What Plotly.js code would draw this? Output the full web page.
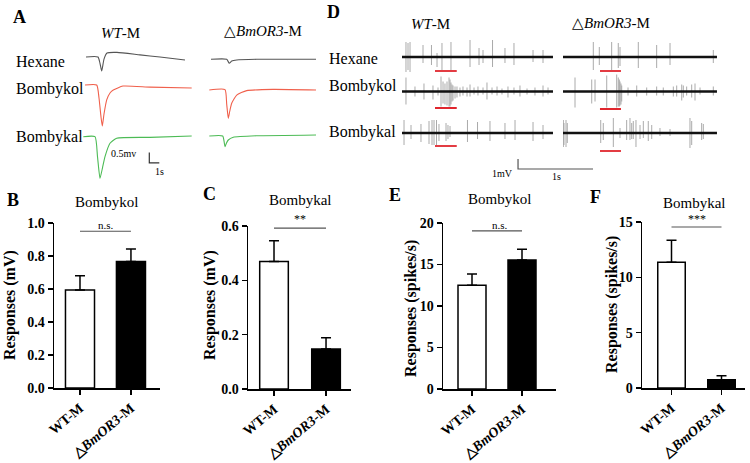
<!DOCTYPE html>
<html><head><meta charset="utf-8">
<script src="https://cdn.plot.ly/plotly-3.0.1.min.js"></script>
<style>html,body{margin:0;padding:0;background:#fff;}#chart{width:750px;height:463px;}</style>
</head><body><div id="chart"></div>
<script>
// ================= DATA =================
// Panel A: EAG traces, time (s) and response (mV, relative to baseline)
const eagWtHexaneT   = [0.4, 1.6, 1.8, 1.97, 2.2, 2.5, 3.5, 5.8, 7.8, 10.3];
const eagWtHexaneV   = [0, 0, -0.3, -0.67, -0.1, 0.19, 0.22, 0.1, 0, -0.14];
const eagWtBombykolT = [0.3, 1.47, 1.7, 1.9, 2.03, 2.2, 2.47, 2.8, 3.13, 4.1, 6.8, 10.97];
const eagWtBombykolV = [0, 0, -0.62, -1.52, -1.95, -1.38, -0.71, -0.38, -0.24, -0.05, -0.1, -0.14];
const eagWtBombykalT = [0.13, 1.3, 1.55, 1.8, 2.05, 2.3, 2.8, 3.47, 6.8, 10.97];
const eagWtBombykalV = [0, 0, -0.95, -1.98, -1.48, -0.95, -0.31, -0.07, -0.03, 0.03];
const eagKoHexaneT   = [0.2, 1.77, 2.03, 2.27, 2.77, 4.77, 10.7];
const eagKoHexaneV   = [0, 0, -0.19, -0.08, -0.03, 0, 0];
const eagKoBombykolT = [0.03, 1.6, 1.77, 1.93, 2.08, 2.27, 2.77, 3.77, 6.4, 10.7];
const eagKoBombykolV = [0, 0.02, -0.67, -1.35, -1.0, -0.63, -0.24, -0.03, 0.03, 0];
const eagKoBombykalT = [0.03, 1.37, 1.6, 1.75, 1.93, 2.43, 4.77, 10.7];
const eagKoBombykalV = [0, 0, -0.51, -0.33, -0.19, -0.06, 0.01, 0.05];

// Panel D: single-sensillum recordings, spike time (s), upward and downward peak (mV)
const ssrWtDuration = 2.013, ssrKoDuration = 2.053;
const ssrWtHexaneT = [0.053,0.080,0.107,0.280,0.393,0.467,0.533,0.653,0.907,1.027,1.080,1.207,1.373,1.493,1.747,1.880];
const ssrWtHexaneUp = [1.5,1.4,1.5,1.2,1.2,0.4,1.4,1.5,1.7,0.9,0.7,1.7,0.9,1.4,0.7,0.7];
const ssrWtHexaneDn = [1.5,1.3,1.5,0.6,0.8,1.0,1.3,1.3,1.0,0.8,0.6,1.0,0.6,0.8,0.5,0.6];
const ssrWtBombykolT = [0.053,0.173,0.293,0.413,0.480,0.520,0.547,0.573,0.600,0.627,0.640,0.653,0.667,0.680,0.707,0.733,0.773,0.813,0.867,0.907,0.960,1.013,1.080,1.133,1.200,1.267,1.333,1.413,1.493,1.573,1.667,1.773,1.880,1.947];
const ssrWtBombykolUp = [1.4,0.5,0.8,0.6,0.4,1.5,1.0,0.8,1.0,1.4,1.2,0.9,0.7,0.6,0.5,0.5,0.4,0.5,0.4,0.7,0.4,0.5,0.4,0.9,0.4,0.5,0.3,0.5,0.4,0.6,0.3,0.4,0.6,0.4];
const ssrWtBombykolDn = [1.3,0.5,0.8,0.8,0.4,1.5,1.2,1.3,1.4,1.5,1.5,1.3,1.0,0.9,0.7,0.6,0.5,0.4,0.5,0.5,0.3,0.4,0.3,0.8,0.3,0.4,0.3,0.6,0.3,0.5,0.3,0.4,0.5,0.3];
const ssrWtBombykalT = [0.027,0.120,0.253,0.360,0.400,0.427,0.460,0.493,0.587,0.613,0.640,0.873,1.007,1.173,1.373,1.507,1.747,1.880];
const ssrWtBombykalUp = [1.3,0.8,0.9,1.2,1.3,1.3,1.3,0.9,1.0,0.8,0.7,1.3,1.1,1.2,1.0,1.3,1.1,0.8];
const ssrWtBombykalDn = [1.2,0.6,0.9,1.1,1.2,1.2,1.2,0.8,0.8,0.6,0.4,0.9,0.6,0.8,0.6,0.7,0.8,0.6];
const ssrKoHexaneT = [0.404,0.484,0.649,0.737,0.760,1.004,1.249,1.427,2.004];
const ssrKoHexaneUp = [1.5,1.0,1.5,1.4,1.0,1.5,1.2,1.4,0.7];
const ssrKoHexaneDn = [1.3,0.8,1.3,1.1,0.9,1.1,1.1,0.8,0.6];
const ssrKoBombykolT = [0.160,0.383,0.427,0.583,0.716,0.737,0.751,0.760,0.773,0.783,0.867,0.983,1.116,1.249,1.337,1.471,1.516,1.583,1.604,1.649,1.716,1.760,1.827,2.004];
const ssrKoBombykolUp = [1.4,1.2,1.2,1.6,1.7,1.4,1.2,1.0,0.8,0.6,0.4,0.6,0.4,0.5,0.4,0.5,0.6,0.7,0.6,0.5,0.7,0.8,0.4,0.5];
const ssrKoBombykolDn = [1.6,1.2,1.0,1.6,1.6,1.5,1.5,1.4,1.3,1.0,0.4,0.5,0.4,0.4,0.4,0.5,0.5,0.9,0.6,0.4,0.6,0.9,0.3,0.4];
const ssrKoBombykalT = [0.005,0.013,0.040,0.057,0.503,0.537,0.671,0.760,0.849,0.893,0.916,0.937,0.973,1.027,1.071,1.137,1.183,1.293,1.427,1.693,1.716,1.849,1.871];
const ssrKoBombykalUp = [1.3,1.0,1.3,1.0,1.3,1.0,1.5,0.5,1.3,1.5,1.0,1.2,1.3,0.8,1.2,1.2,0.8,0.5,0.4,1.5,1.2,1.0,0.9];
const ssrKoBombykalDn = [1.4,1.2,1.4,1.0,1.0,0.7,1.4,0.5,0.7,0.7,0.6,0.6,1.4,0.6,0.5,0.8,0.6,0.3,0.3,1.5,1.2,0.7,0.6];
const stimWt = [0.44, 0.73];   // odour stimulus window (s)
const stimKo = [0.493, 0.773];

// Bar panels
const groupLabels = ['WT-M', '△<i>BmOR3</i>-M'];
const eagBombykolMean = [0.594, 0.766], eagBombykolSem = [0.086, 0.076];
const eagBombykalMean = [0.469, 0.147], eagBombykalSem = [0.077, 0.042];
const ssrBombykolMean = [12.5, 15.55], ssrBombykolSem = [1.35, 1.3];
const ssrBombykalMean = [11.36, 0.75], ssrBombykalSem = [2.0, 0.35];
const sigLabels = ['n.s.', '**', 'n.s.', '***'];

// ================= LAYOUT HELPERS =================
const W = 750, H = 463;
const SERIF = 'Liberation Serif, "Times New Roman", serif';
const xd = (a, b) => [a / W, b / W];
const yd = (top, bottom) => [1 - bottom / H, 1 - top / H];
const hid = (domain, range, anchor) => ({domain, range, anchor, visible: false, fixedrange: true});
const px = x => x / W, py = y => 1 - y / H;

const layout = {
  width: W, height: H, margin: {l: 0, r: 0, t: 0, b: 0},
  paper_bgcolor: '#fff', plot_bgcolor: 'rgba(0,0,0,0)', showlegend: false,
  font: {family: SERIF, color: '#000'},
  // A axes
  xaxis:  hid(xd(82, 192), [0, 11.0], 'y'),
  xaxis2: hid(xd(209, 318), [0, 10.9], 'y4'),
  yaxis:  hid(yd(57 - 20, 57 + 50), [-50 / 21, 20 / 21], 'x'),
  yaxis2: hid(yd(85 - 20, 85 + 50), [-50 / 21, 20 / 21], 'x'),
  yaxis3: hid(yd(136.7 - 20, 136.7 + 50), [-50 / 21, 20 / 21], 'x'),
  yaxis4: hid(yd(59.3 - 20, 59.3 + 50), [-50 / 21, 20 / 21], 'x2'),
  yaxis5: hid(yd(90 - 20, 90 + 50), [-50 / 21, 20 / 21], 'x2'),
  yaxis6: hid(yd(136 - 20, 136 + 50), [-50 / 21, 20 / 21], 'x2'),
  // D axes
  xaxis3: hid(xd(402, 600), [0, 198 / 75], 'y7'),
  xaxis4: hid(xd(563, 717), [0, 154 / 75], 'y7'),
  yaxis7: hid(yd(32, 82), [-2.5, 2.5], 'x3'),
  yaxis8: hid(yd(66.5, 116.5), [-2.5, 2.5], 'x3'),
  yaxis9: hid(yd(108, 175), [-4.2, 2.5], 'x3'),
  shapes: [], annotations: []
};

function barAxes(xi, yi, xdom, ydom, xr, yr, dtick, fmt) {
  const common = {showline: true, linecolor: '#000', linewidth: 1.5, ticks: 'outside', ticklen: 5,
    tickwidth: 1.5, tickcolor: '#000', showgrid: false, zeroline: false, fixedrange: true};
  layout['xaxis' + xi] = Object.assign({}, common, {domain: xdom, range: xr, anchor: 'y' + yi,
    tickvals: [0, 1], ticktext: groupLabels, tickangle: -40,
    tickfont: {family: SERIF, size: 14, color: '#000', weight: 'bold'}});
  layout['yaxis' + yi] = Object.assign({}, common, {domain: ydom, range: yr, anchor: 'x' + xi,
    tick0: 0, dtick: dtick, tickformat: fmt,
    tickfont: {family: SERIF, size: 14, color: '#000', weight: 'bold'}});
}
barAxes(5, 10, xd(54, 160), yd(223, 388), [-0.51, 1.57], [0, 1.0], 0.2, '.1f');
barAxes(6, 11, xd(248, 351), yd(226, 389), [-0.5, 1.48], [0, 0.6], 0.2, '.1f');
barAxes(7, 12, xd(443, 556), yd(223, 389), [-0.58, 1.68], [0, 20], 5, 'd');
barAxes(8, 13, xd(642, 745), yd(222, 388), [-0.59, 1.47], [0, 15], 5, 'd');

// ================= TRACES =================
const data = [];
const eagColors = {hex: '#555555', kol: '#f0604c', kal: '#4cbb55'};
function eag(t, v, xa, ya, color) {
  data.push({x: t, y: v, xaxis: xa, yaxis: ya, mode: 'lines', hoverinfo: 'skip',
    line: {color: color, width: 1.1, shape: 'spline', smoothing: 0.5}});
}
eag(eagWtHexaneT, eagWtHexaneV, 'x', 'y', eagColors.hex);
eag(eagWtBombykolT, eagWtBombykolV, 'x', 'y2', eagColors.kol);
eag(eagWtBombykalT, eagWtBombykalV, 'x', 'y3', eagColors.kal);
eag(eagKoHexaneT, eagKoHexaneV, 'x2', 'y4', eagColors.hex);
eag(eagKoBombykolT, eagKoBombykolV, 'x2', 'y5', eagColors.kol);
eag(eagKoBombykalT, eagKoBombykalV, 'x2', 'y6', eagColors.kal);

function ssr(t, up, dn, dur, xa, ya) {
  const xs = [], ys = [];
  t.forEach((ti, i) => { xs.push(ti, ti, null); ys.push(up[i], -dn[i], null); });
  data.push({x: xs, y: ys, xaxis: xa, yaxis: ya, mode: 'lines', hoverinfo: 'skip',
    connectgaps: false, line: {color: '#a0a0a0', width: 0.9}});
  data.push({x: [0, dur], y: [0, 0], xaxis: xa, yaxis: ya, mode: 'lines', hoverinfo: 'skip',
    line: {color: '#111', width: 2.4}});
}
ssr(ssrWtHexaneT, ssrWtHexaneUp, ssrWtHexaneDn, ssrWtDuration, 'x3', 'y7');
ssr(ssrWtBombykolT, ssrWtBombykolUp, ssrWtBombykolDn, ssrWtDuration, 'x3', 'y8');
ssr(ssrWtBombykalT, ssrWtBombykalUp, ssrWtBombykalDn, ssrWtDuration, 'x3', 'y9');
ssr(ssrKoHexaneT, ssrKoHexaneUp, ssrKoHexaneDn, ssrKoDuration, 'x4', 'y7');
ssr(ssrKoBombykolT, ssrKoBombykolUp, ssrKoBombykolDn, ssrKoDuration, 'x4', 'y8');
ssr(ssrKoBombykalT, ssrKoBombykalUp, ssrKoBombykalDn, ssrKoDuration, 'x4', 'y9');

function bars(mean, sem, xa, ya, width) {
  data.push({type: 'bar', x: [0, 1], y: mean, xaxis: xa, yaxis: ya, width: width, hoverinfo: 'skip',
    marker: {color: ['#ffffff', '#000000'], line: {color: '#000', width: 1.5}},
    error_y: {type: 'data', array: sem, arrayminus: [0, 0], symmetric: false,
      color: '#000', thickness: 1.5, width: 5}});
}
bars(eagBombykolMean, eagBombykolSem, 'x5', 'y10', 0.57);
bars(eagBombykalMean, eagBombykalSem, 'x6', 'y11', 0.55);
bars(ssrBombykolMean, ssrBombykolSem, 'x7', 'y12', 0.56);
bars(ssrBombykalMean, ssrBombykalSem, 'x8', 'y13', 0.55);

// ================= SHAPES =================
const S = layout.shapes;
// A scale bar (0.5 mV, 1 s)
S.push({type: 'path', xref: 'x', yref: 'y3', path: 'M6.73,-0.75 L6.73,-1.25 L7.73,-1.25',
  line: {color: '#333', width: 1.2}});
// D scale bar (1 mV, 1 s)
S.push({type: 'path', xref: 'x3', yref: 'y9', path: 'M1.547,-2.6 L1.547,-3.6 L2.547,-3.6',
  line: {color: '#555', width: 1.2}});
// stimulus bars
const stimRows = [['x3', 'y7', stimWt, -1.4], ['x3', 'y8', stimWt, -1.65], ['x3', 'y9', stimWt, -1.3],
                  ['x4', 'y7', stimKo, -1.4], ['x4', 'y8', stimKo, -1.75], ['x4', 'y9', stimKo, -1.8]];
stimRows.forEach(r => S.push({type: 'line', xref: r[0], yref: r[1], x0: r[2][0], x1: r[2][1],
  y0: r[3], y1: r[3], line: {color: '#e0262e', width: 1.8}}));
// significance lines
[['x5', 'y10', 0.95], ['x6', 'y11', 0.592], ['x7', 'y12', 19.04], ['x8', 'y13', 14.55]].forEach(s =>
  S.push({type: 'line', xref: s[0], yref: s[1], x0: 0, x1: 1, y0: s[2], y1: s[2],
    line: {color: '#555', width: 1.2}}));

// ================= ANNOTATIONS =================
const A = layout.annotations;
function ann(text, x, y, size, opts) {
  A.push(Object.assign({text: text, x: px(x), y: py(y), xref: 'paper', yref: 'paper', showarrow: false,
    xanchor: 'center', yanchor: 'middle', font: {family: SERIF, size: size, color: '#000'}}, opts || {}));
}
const bold = (size) => ({font: {family: SERIF, size: size, color: '#000', weight: 'bold'}});
ann('A', 19, 17, 18, bold(18));
ann('D', 333, 12, 18, bold(18));
ann('<i>WT</i>-M', 120, 33, 15);
ann('△<i>BmOR3</i>-M', 263, 31, 15);
ann('<i>WT</i>-M', 430, 24, 15);
ann('△<i>BmOR3</i>-M', 611, 23, 15);
[['Hexane', 61], ['Bombykol', 89], ['Bombykal', 137]].forEach(r => ann(r[0], 14, r[1], 16, {xanchor: 'left'}));
[['Hexane', 59], ['Bombykol', 86], ['Bombykal', 132]].forEach(r => ann(r[0], 327, r[1], 16, {xanchor: 'left'}));
ann('0.5mv', 138, 154, 10, {xanchor: 'right'});
ann('1s', 159, 172, 10);
ann('1mV', 515, 173, 10, {xanchor: 'right'});
ann('1s', 556, 176, 10);
ann('B', 13, 200, 18, bold(18));
ann('C', 209, 194, 18, bold(18));
ann('E', 395, 195, 18, bold(18));
ann('F', 595, 197, 18, bold(18));
ann('Bombykol', 106, 202, 15);
ann('Bombykal', 300, 200, 15);
ann('Bombykol', 499, 199, 15);
ann('Bombykal', 694, 203, 15);
ann(sigLabels[0], 106, 225, 11);
ann(sigLabels[1], 300, 219, 12);
ann(sigLabels[2], 500, 225, 11);
ann(sigLabels[3], 697, 219, 12);
ann('Responses (mV)', 10, 305, 16, Object.assign({textangle: -90}, bold(16)));
ann('Responses (mV)', 210, 305, 16, Object.assign({textangle: -90}, bold(16)));
ann('Responses (spikes/s)', 411, 309, 16, Object.assign({textangle: -90}, bold(16)));
ann('Responses (spikes/s)', 612, 305, 16, Object.assign({textangle: -90}, bold(16)));

Plotly.newPlot('chart', data, layout, {staticPlot: true, displayModeBar: false});
</script>
</body></html>
